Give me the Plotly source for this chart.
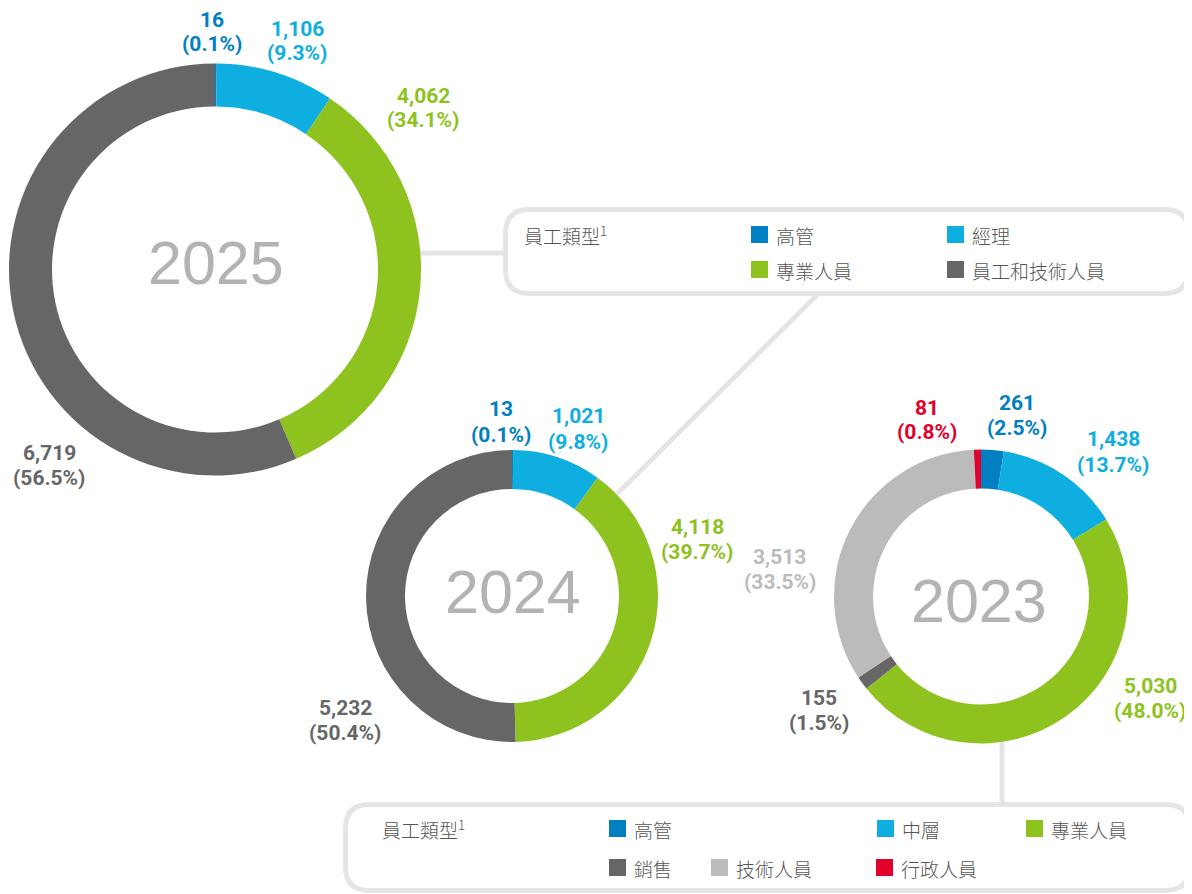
import plotly.graph_objects as go

# page offset (browser body margin) and figure size
OFF = 8
W, H = 1192 - OFF, 894 - OFF

# ---------------- data ----------------
cats_2025 = ["高管", "經理", "專業人員", "員工和技術人員"]
vals_2025 = [16, 1106, 4062, 6719]
pct_2025 = [0.1, 9.3, 34.1, 56.5]

cats_2024 = ["高管", "經理", "專業人員", "員工和技術人員"]
vals_2024 = [13, 1021, 4118, 5232]
pct_2024 = [0.1, 9.8, 39.7, 50.4]

cats_2023 = ["高管", "中層", "專業人員", "銷售", "技術人員", "行政人員"]
vals_2023 = [261, 1438, 5030, 155, 3513, 81]
pct_2023 = [2.5, 13.7, 48.0, 1.5, 33.5, 0.8]

years = ["2025", "2024", "2023"]
legend_title = "員工類型<sup>1</sup>"

# ---------------- styles ----------------
COL = {
    "高管": "#0080C3",
    "經理": "#0FAEE0",
    "中層": "#0FAEE0",
    "專業人員": "#8DC21F",
    "員工和技術人員": "#666666",
    "銷售": "#666666",
    "技術人員": "#BBBBBB",
    "行政人員": "#E2002D",
}
LABEL_FONT = "Roboto, Liberation Sans, Arial, sans-serif"
CJK_FONT = "Noto Sans CJK TC, Noto Sans CJK SC, sans-serif"
YEAR_FONT = "Liberation Sans, Arial, sans-serif"
LINE_COL = "#E5E5E5"
TEXT_COL = "#555555"


def px(x):
    return (x - OFF) / W


def py(y):
    return 1 - (y - OFF) / H


# donut geometry (page pixels): centre x, centre y, outer radius, inner radius
donuts = [
    dict(cx=215, cy=269.5, r=206, ri=163, cats=cats_2025, vals=vals_2025, pct=pct_2025, year=years[0],
         ycx=216, ycy=263,
         lab=[(212, 20, 44), (297, 28.5, 53), (423, 95.5, 120.5), (49, 452.5, 477.5)]),
    dict(cx=512, cy=596, r=146, ri=107, cats=cats_2024, vals=vals_2024, pct=pct_2024, year=years[1],
         ycx=513, ycy=592,
         lab=[(501, 409, 434.5), (578, 416, 441.5), (697, 527, 551.5), (345, 708, 732.5)]),
    dict(cx=981, cy=596.5, r=147, ri=108, cats=cats_2023, vals=vals_2023, pct=pct_2023, year=years[2],
         ycx=978.5, ycy=600.5,
         lab=[(1017, 403.5, 428), (1113, 439, 464.5), (1150, 686, 711), (818.5, 697.5, 723),
              (780, 556.5, 582), (927, 408, 432)]),
]

fig = go.Figure()
annotations = []
shapes = []

for d in donuts:
    fig.add_trace(go.Pie(
        labels=d["cats"], values=d["vals"],
        sort=False, direction="clockwise", rotation=0,
        hole=d["ri"] / d["r"],
        marker=dict(colors=[COL[c] for c in d["cats"]], line=dict(width=0)),
        textinfo="none", hoverinfo="skip", showlegend=False,
        domain=dict(x=[px(d["cx"] - d["r"]), px(d["cx"] + d["r"])],
                    y=[py(d["cy"] + d["r"]), py(d["cy"] - d["r"])]),
    ))
    annotations.append(dict(
        x=px(d["ycx"]), y=py(d["ycy"]), xref="paper", yref="paper",
        text=d["year"], showarrow=False, xanchor="center", yanchor="middle",
        font=dict(family=YEAR_FONT, size=61, color="#B3B3B3"),
    ))
    for c, v, p, (lx, ly1, ly2) in zip(d["cats"], d["vals"], d["pct"], d["lab"]):
        colr = COL[c]
        annotations.append(dict(
            x=px(lx), y=py(ly1), xref="paper", yref="paper", text=f"{v:,}",
            showarrow=False, xanchor="center", yanchor="middle",
            font=dict(family=LABEL_FONT, size=21, color=colr, weight="bold"),
        ))
        annotations.append(dict(
            x=px(lx), y=py(ly2), xref="paper", yref="paper", text=f"({p:.1f}%)",
            showarrow=False, xanchor="center", yanchor="middle",
            font=dict(family=LABEL_FONT, size=21, color=colr, weight="bold"),
        ))


def rounded_rect(x0, y0, x1, y1, r):
    pts = [
        ("M", [(x0 + r, y0)]),
        ("L", [(x1 - r, y0)]),
        ("Q", [(x1, y0), (x1, y0 + r)]),
        ("L", [(x1, y1 - r)]),
        ("Q", [(x1, y1), (x1 - r, y1)]),
        ("L", [(x0 + r, y1)]),
        ("Q", [(x0, y1), (x0, y1 - r)]),
        ("L", [(x0, y0 + r)]),
        ("Q", [(x0, y0), (x0 + r, y0)]),
    ]
    s = ""
    for cmd, ps in pts:
        s += cmd + " " + " ".join(f"{px(a):.5f},{py(b):.5f}" for a, b in ps) + " "
    return s + "Z"


def line(x0, y0, x1, y1):
    shapes.append(dict(type="line", xref="paper", yref="paper",
                       x0=px(x0), y0=py(y0), x1=px(x1), y1=py(y1),
                       line=dict(color=LINE_COL, width=5), layer="below"))


# connectors
line(418, 253, 506, 253)
line(817, 295, 617, 494)
line(1002, 742, 1002, 805)

# legend boxes
for (x0, y0, x1, y1) in [(505.5, 209.5, 1188.5, 293.5), (345.5, 804.5, 1189.5, 890.5)]:
    shapes.append(dict(type="path", xref="paper", yref="paper",
                       path=rounded_rect(x0, y0, x1, y1, 24),
                       line=dict(color=LINE_COL, width=5), fillcolor="rgba(0,0,0,0)", layer="below"))


def legend_title_at(x, y):
    annotations.append(dict(
        x=px(x), y=py(y), xref="paper", yref="paper", text=legend_title,
        showarrow=False, xanchor="left", yanchor="middle",
        font=dict(family=CJK_FONT, size=19, color=TEXT_COL, weight=300),
    ))


def legend_item(name, sx, sy):
    shapes.append(dict(type="rect", xref="paper", yref="paper",
                       x0=px(sx), x1=px(sx + 17), y0=py(sy + 17), y1=py(sy),
                       fillcolor=COL[name], line=dict(width=0)))
    annotations.append(dict(
        x=px(sx + 23), y=py(sy + 9), xref="paper", yref="paper", text=name,
        showarrow=False, xanchor="left", yanchor="middle",
        font=dict(family=CJK_FONT, size=19, color=TEXT_COL, weight=300),
    ))


legend_title_at(522, 235)
legend_items_1 = [("高管", 751, 226), ("經理", 947, 226), ("專業人員", 751, 261), ("員工和技術人員", 947, 261)]
for n, sx, sy in legend_items_1:
    legend_item(n, sx, sy)

legend_title_at(380, 829)
legend_items_2 = [("高管", 609, 820), ("中層", 877, 820), ("專業人員", 1026, 820),
                  ("銷售", 609, 859), ("技術人員", 711, 859), ("行政人員", 876, 859)]
for n, sx, sy in legend_items_2:
    legend_item(n, sx, sy)

fig.update_layout(
    width=W, height=H,
    margin=dict(l=0, r=0, t=0, b=0),
    paper_bgcolor="white", plot_bgcolor="white",
    showlegend=False,
    annotations=annotations,
    shapes=shapes,
)

fig.write_html("out.html")
